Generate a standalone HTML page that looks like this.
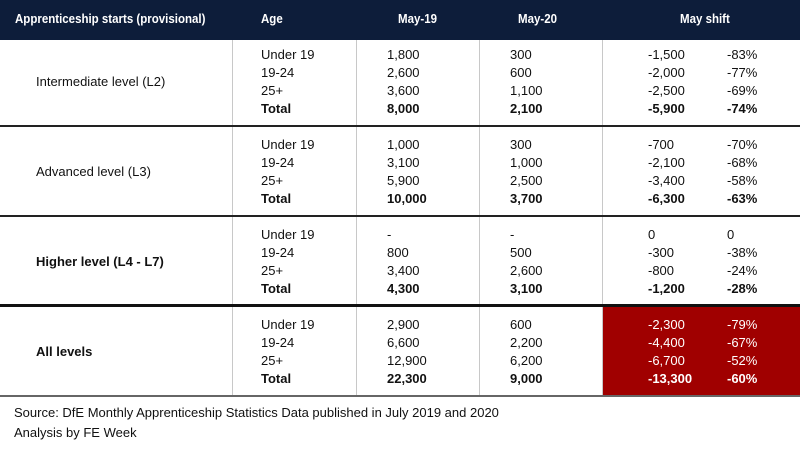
<!DOCTYPE html>
<html><head><meta charset="utf-8">
<style>
body{margin:0;width:800px;height:450px;background:#fff;position:relative;overflow:hidden;font-family:"Liberation Sans",sans-serif;color:#111}
.a{position:absolute;white-space:nowrap;font-size:13px;line-height:18px}
.hd{position:absolute;left:0;top:0;width:800px;height:40px;background:#0d1d3a}
.ht{position:absolute;top:10px;color:#fff;font-weight:bold;font-size:12.5px;line-height:18px;white-space:nowrap;transform:scaleX(0.92);transform-origin:left}
.v{position:absolute;width:1px;background:#c8c8c8;top:40px;height:357px}
.h{position:absolute;left:0;width:800px;background:#222}
.b{font-weight:bold}
.m{font-weight:500}
.w{color:#fff}
</style></head><body>
<div class="hd"></div>
<div class="ht" style="left:15px">Apprenticeship starts (provisional)</div>
<div class="ht" style="left:261px">Age</div>
<div class="ht" style="left:398px">May-19</div>
<div class="ht" style="left:518px">May-20</div>
<div class="ht" style="left:680px">May shift</div>
<div style="position:absolute;left:603px;top:307px;width:197px;height:89px;background:#a00000"></div>
<div class="v" style="left:232px"></div>
<div class="v" style="left:356px"></div>
<div class="v" style="left:479px"></div>
<div class="v" style="left:602px"></div>
<div class="h" style="top:125px;height:2px"></div>
<div class="h" style="top:215px;height:2px"></div>
<div class="h" style="top:304px;height:3px;background:#111"></div>
<div class="h" style="top:395px;height:2px;background:#666"></div>
<div id="t"></div>
<div class="a" style="left:14px;top:404px;font-size:13px">Source: DfE Monthly Apprenticeship Statistics Data published in July 2019 and 2020</div>
<div class="a" style="left:14px;top:424px;font-size:13px">Analysis by FE Week</div>
<script>
const sections=["Intermediate level (L2)","Advanced level (L3)","Higher level (L4 - L7)","All levels"];
const ages=["Under 19","19-24","25+","Total"];
const may19=[["1,800","2,600","3,600","8,000"],["1,000","3,100","5,900","10,000"],["-","800","3,400","4,300"],["2,900","6,600","12,900","22,300"]];
const may20=[["300","600","1,100","2,100"],["300","1,000","2,500","3,700"],["-","500","2,600","3,100"],["600","2,200","6,200","9,000"]];
const shift=[["-1,500","-2,000","-2,500","-5,900"],["-700","-2,100","-3,400","-6,300"],["0","-300","-800","-1,200"],["-2,300","-4,400","-6,700","-13,300"]];
const pct=[["-83%","-77%","-69%","-74%"],["-70%","-68%","-58%","-63%"],["0","-38%","-24%","-28%"],["-79%","-67%","-52%","-60%"]];
const T=document.getElementById('t');
const secTop=[46,136,226,316];
function cell(x,y,txt,cls,name){const d=document.createElement('div');d.className='a '+cls;d.style.left=x+'px';d.style.top=y+'px';d.textContent=txt;


T.appendChild(d);}
sections.forEach((s,i)=>{
 const y0=secTop[i];
 cell(36,y0+27,s,i>=2?'b':'m', 'section-label');
 ages.forEach((a,j)=>{
  const y=y0+j*18,bold=j==3?'b':'',w=i==3?' w':'';
  cell(261,y,a,bold,'age-label');
  cell(387,y,may19[i][j],bold,'may19-value');
  cell(510,y,may20[i][j],bold,'may20-value');
  cell(648,y,shift[i][j],bold+w,'shift-value');
  cell(727,y,pct[i][j],bold+w,'shift-percent');
 });
});
</script>
</body></html>
